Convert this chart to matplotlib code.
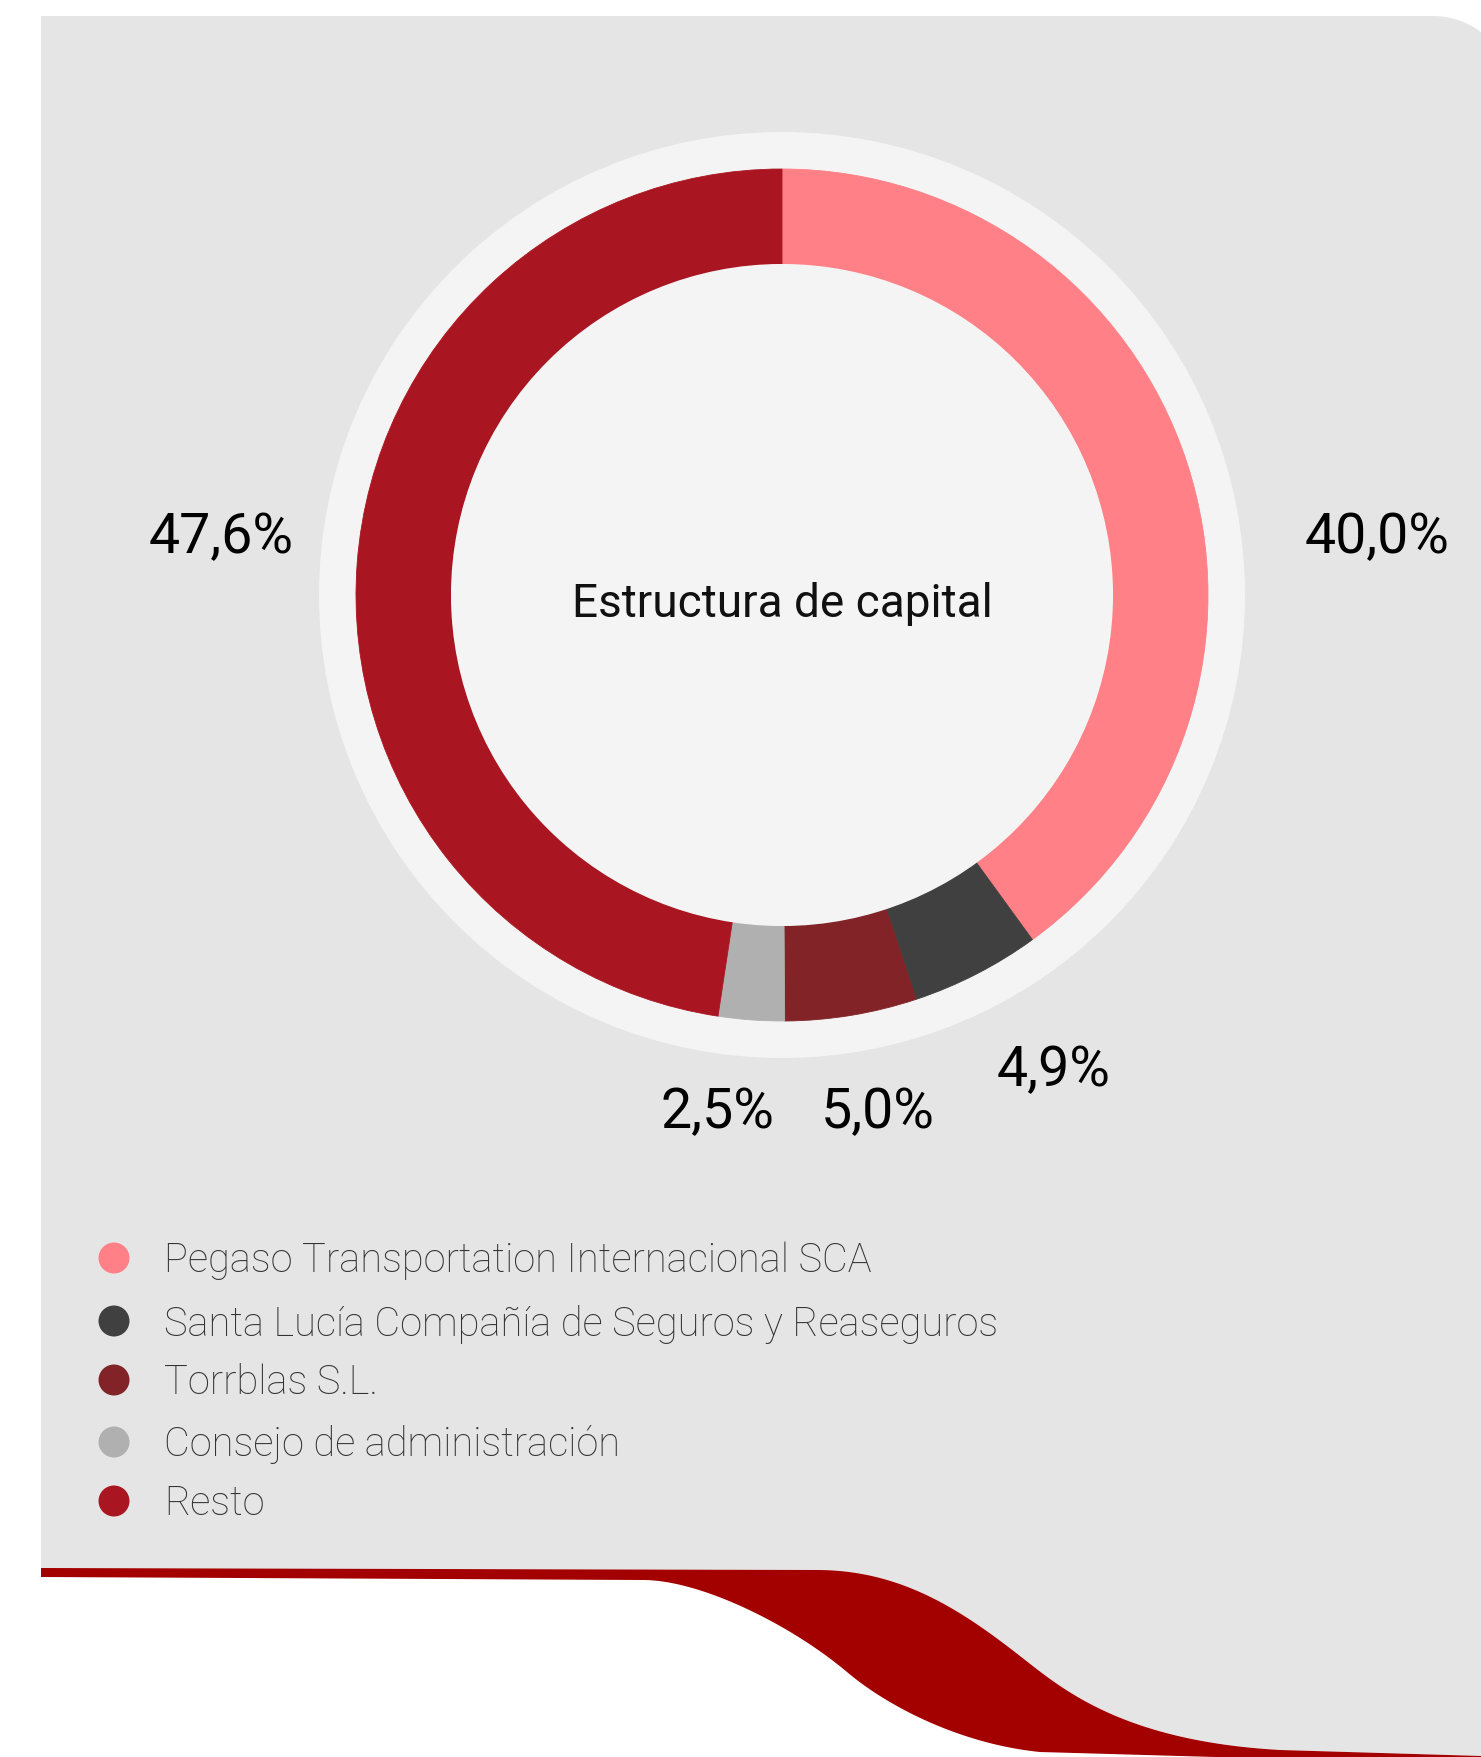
"""Estructura de capital - donut chart on a grey card with red wave."""
import numpy as np
import matplotlib
matplotlib.use("Agg")
import matplotlib.pyplot as plt
from matplotlib.path import Path
from matplotlib.patches import PathPatch, Circle

# data
holders = ["Pegaso Transportation Internacional SCA",
           "Santa Lucía Compañía de Seguros y Reaseguros",
           "Torrblas S.L.",
           "Consejo de administración",
           "Resto"]
shares = [40.0, 4.9, 5.0, 2.5, 47.6]
share_labels = ["40,0%", "4,9%", "5,0%", "2,5%", "47,6%"]
colors = ["#FF8086", "#404040", "#822427", "#B0B0B0", "#A91622"]
title = "Estructura de capital"

W, H = 1481, 1758
# label anchor positions (pixels, y down) -- layout only
label_pos = [(1377, 538), (1054, 1071), (878, 1113), (717, 1113), (221, 538)]
legend_y = [1259, 1322, 1381, 1443, 1502]


def Y(y):
    return H - y


def cubic(p0, p1, p2, p3, n=60):
    t = np.linspace(0, 1, n)[:, None]
    p0, p1, p2, p3 = map(np.array, (p0, p1, p2, p3))
    return (1 - t) ** 3 * p0 + 3 * (1 - t) ** 2 * t * p1 + 3 * (1 - t) * t ** 2 * p2 + t ** 3 * p3


def poly(ax, pts, fc):
    pts = np.array(pts, dtype=float)
    pts[:, 1] = H - pts[:, 1]
    ax.add_patch(PathPatch(Path(pts), fc=fc, ec="none", lw=0))


fig = plt.figure(figsize=(W / 100, H / 100), dpi=100)
fig.patch.set_facecolor("white")
ax = fig.add_axes([0, 0, 1, 1])

# wave edges (y down)
top_edge = np.vstack([[[41, 1569]],
                      cubic((817, 1571), (900, 1571), (960, 1610), (1020, 1657)),
                      cubic((1020, 1657), (1060, 1688), (1120, 1742), (1280, 1751)),
                      [[1481, 1757]]])
bot_edge = np.vstack([[[41, 1578]],
                      cubic((643, 1581), (700, 1581), (790, 1625), (847, 1673)),
                      cubic((847, 1673), (887, 1707), (960, 1745), (1040, 1753)),
                      [[1250, 1759], [1481, 1762]]])

# grey card with rounded top-right corner
ang = np.linspace(np.pi / 2, np.arccos(48 / 80), 30)
corner = np.column_stack([1433 + 80 * np.cos(ang), 97 - 80 * np.sin(ang)])
card = np.vstack([[[41, 17]], corner, [[1481, 60], [1481, 1757]], top_edge[::-1]])
poly(ax, card, "#E5E5E5")

# red band
band = np.vstack([top_edge, bot_edge[::-1]])
poly(ax, band, "#A30000")

# donut
cx, cy = 782, 596
ax.add_patch(Circle((cx, Y(cy)), 463, fc="#F4F4F4", ec="none"))
wedges, _ = ax.pie(shares, colors=colors, startangle=90, counterclock=False, radius=426,
                   center=(cx, Y(cy)), frame=True,
                   wedgeprops=dict(width=95, linewidth=0))
for w, c in zip(wedges, colors):
    w.set_edgecolor(c)
    w.set_linewidth(0.6)
ax.add_patch(Circle((cx, Y(cy)), 331, fc="#F4F4F4", ec="none"))
ax.text(cx, Y(cy + 8), title, ha="center", va="center", fontsize=33,
        family="Roboto", color="#111")

for (lx, ly), lab in zip(label_pos, share_labels):
    ax.text(lx, Y(ly), lab, ha="center", va="center", fontsize=40,
            family="Roboto", color="#000")

# legend
for name, c, ly in zip(holders, colors, legend_y):
    ax.add_patch(Circle((114, Y(ly)), 15.5, fc=c, ec="none"))
    ax.text(164, Y(ly + 2), name, ha="left", va="center", fontsize=28.7,
            family="Roboto", fontweight="light", color="#333")

ax.set_xlim(0, W)
ax.set_ylim(0, H)
ax.set_aspect("auto")
ax.axis("off")
fig.savefig("out.png", dpi=100, facecolor="white")
